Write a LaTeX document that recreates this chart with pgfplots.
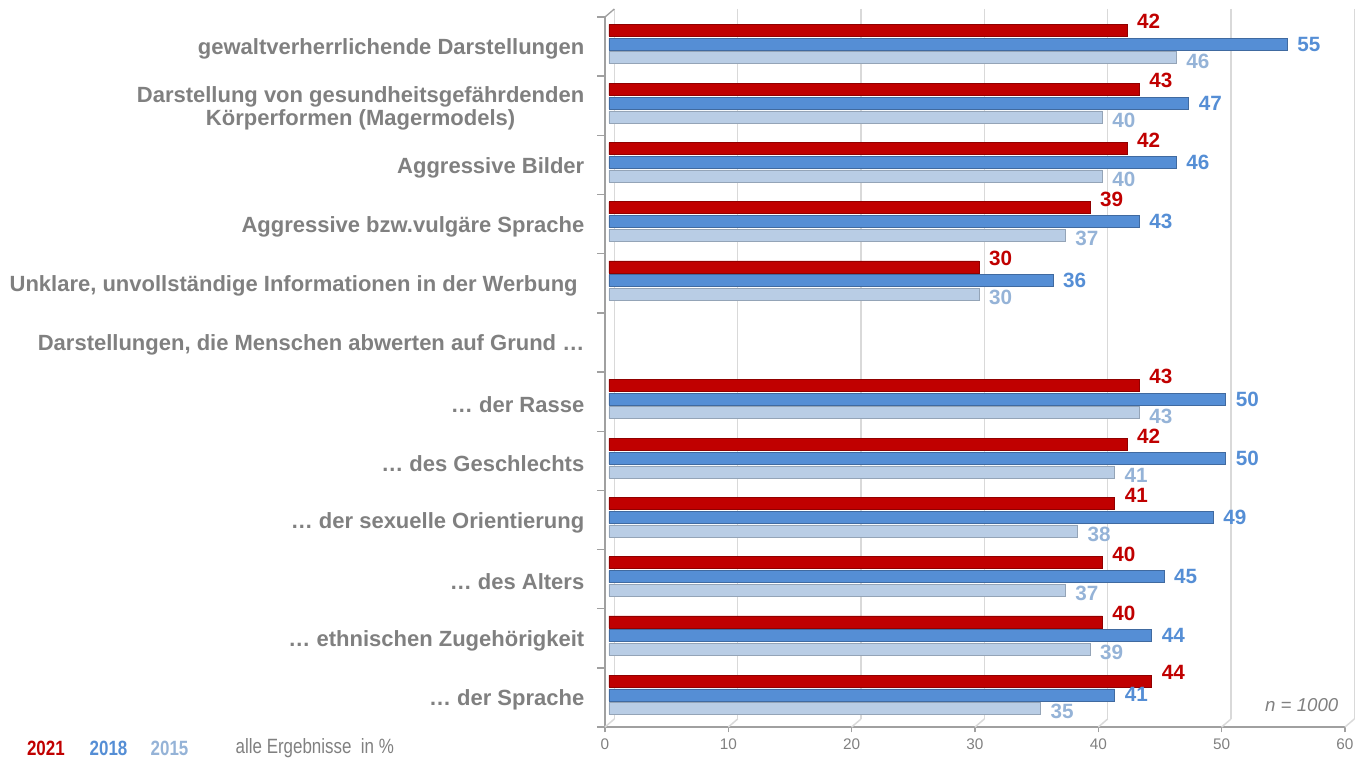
\documentclass[border=0pt]{standalone}
\usepackage{pgfplots}
\pgfplotsset{compat=1.18}
\usepackage{fontspec}
\setmainfont{Liberation Sans}
\newfontfamily\narrowfont[FakeStretch=0.82]{Liberation Sans}

\definecolor{cRed}{HTML}{C00000}
\definecolor{cBlue}{HTML}{558ED5}
\definecolor{cLight}{HTML}{B9CDE5}
\definecolor{cLightTxt}{HTML}{95B3D7}
\definecolor{txtgray}{HTML}{808080}
\definecolor{gridgray}{HTML}{D9D9D9}
\definecolor{axgray}{HTML}{A0A0A0}

\begin{document}
\begin{tikzpicture}
\begin{axis}[
  at={(0pt,0pt)}, anchor=south west,
  width=555pt, height=532.5pt, scale only axis,
  xmin=0, xmax=60, ymin=0.5, ymax=12.5, y dir=reverse,
  xbar, bar width=9pt,
  axis x line*=bottom, axis y line*=left,
  axis line style={draw=axgray, line width=1.3pt, -},
  xtick={0,10,...,60}, tick align=outside,
  major tick length=4pt, minor tick length=6pt,
  tick style={draw=axgray, line width=1pt},
  ytick={1,...,12}, major y tick style={draw=none},
  minor ytick={0.5,1.5,...,12.5},
  yticklabels={gewaltverherrlichende Darstellungen,
    {Darstellung von gesundheitsgefährdenden\\Körperformen (Magermodels)},
    Aggressive Bilder,
    Aggressive bzw.vulgäre Sprache,
    {Unklare, unvollständige Informationen in der Werbung\hspace*{5pt}},
    {Darstellungen, die Menschen abwerten auf Grund …},
    … der Rasse, … des Geschlechts, … der sexuelle Orientierung,
    … des Alters, … ethnischen Zugehörigkeit, … der Sprache},
  yticklabel style={font=\bfseries\fontsize{16.5}{17}\selectfont, text=txtgray, align=center, xshift=-8pt, yshift=-2pt},
  xticklabel style={font=\fontsize{11.5}{12}\selectfont, text=txtgray, yshift=-1pt},
  /pgf/number format/assume math mode=true,
  xmajorgrids,
  major grid style={draw=gridgray, line width=1.1pt, xshift=7pt, yshift=6pt},
  nodes near coords,
  nodes near coords style={font=\bfseries\fontsize{15.5}{15.5}\selectfont, anchor=west},
  clip=false,
]
\addplot[fill=cRed, draw=cRed!75!black, line width=0.5pt, bar shift=12.2pt, xshift=3pt,
  every node near coord/.append style={text=cRed, xshift=4pt, yshift=6.5pt}]
  coordinates {(42,1) (43,2) (42,3) (39,4) (30,5) (43,7) (42,8) (41,9) (40,10) (40,11) (44,12)};
\addplot[fill=cBlue, draw=cBlue!75!black, line width=0.5pt, bar shift=1.9pt, xshift=3pt,
  every node near coord/.append style={text=cBlue, xshift=4pt}]
  coordinates {(55,1) (47,2) (46,3) (43,4) (36,5) (50,7) (50,8) (49,9) (45,10) (44,11) (41,12)};
\addplot[fill=cLight, draw=cLight!80!black, line width=0.4pt, bar shift=-8.3pt, xshift=3pt,
  every node near coord/.append style={text=cLightTxt, xshift=4pt, yshift=-2.5pt}]
  coordinates {(46,1) (40,2) (40,3) (37,4) (30,5) (43,7) (41,8) (38,9) (37,10) (39,11) (35,12)};
\pgfplotsinvokeforeach{0,10,...,60}{
  \draw[gridgray, line width=1.1pt] (axis cs:#1,12.5) -- ++(7pt,6pt);
}
\draw[axgray, line width=1pt] (axis cs:0,0.5) -- ++(7pt,6pt);
\end{axis}
\node[anchor=east, text=txtgray, font=\itshape\fontsize{14}{14}\selectfont] at (553.5pt,16.5pt) {n = 1000};
\node[anchor=west, text=cRed, font=\narrowfont\bfseries\fontsize{15.5}{16}\selectfont] at (-437pt,-15.75pt) {2021};
\node[anchor=west, text=cBlue, font=\narrowfont\bfseries\fontsize{15.5}{16}\selectfont] at (-390pt,-15.75pt) {2018};
\node[anchor=west, text=cLightTxt, font=\narrowfont\bfseries\fontsize{15.5}{16}\selectfont] at (-344.25pt,-15.75pt) {2015};
\node[anchor=west, text=txtgray, font=\narrowfont\fontsize{15.5}{16}\selectfont] at (-280.5pt,-15.75pt) {alle Ergebnisse\ \ in \%};
\pgfresetboundingbox
\path[use as bounding box] (-453.75pt,-27pt) rectangle (571.5pt,545.25pt);
\end{tikzpicture}
\end{document}
